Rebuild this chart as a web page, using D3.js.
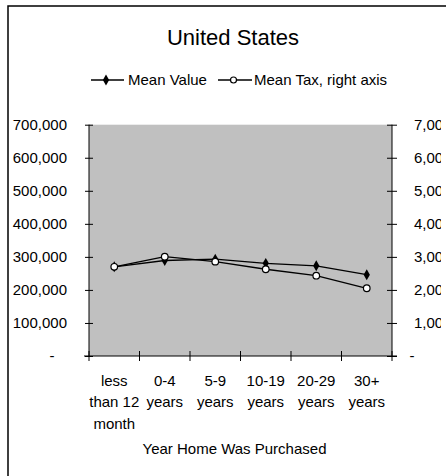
<!DOCTYPE html>
<html>
<head>
<meta charset="utf-8">
<script src="https://cdn.jsdelivr.net/npm/d3@7"></script>
<style>
  html, body { margin: 0; padding: 0; background: #fff; overflow: hidden; }
  svg { display: block; font-family: "Liberation Sans", Arial, sans-serif; }
</style>
</head>
<body>
<svg id="chart" width="446" height="476"></svg>
<script>
const categories = [
  ["less", "than 12", "month"],
  ["0-4", "years"],
  ["5-9", "years"],
  ["10-19", "years"],
  ["20-29", "years"],
  ["30+", "years"]
];
const meanValue = [270000, 289000, 293000, 280500, 273000, 246000];
const meanTax = [2700, 3005, 2855, 2625, 2430, 2050];
const leftTicks = [0, 100000, 200000, 300000, 400000, 500000, 600000, 700000];
const rightTicks = [0, 1000, 2000, 3000, 4000, 5000, 6000, 7000];
const seriesNames = ["Mean Value", "Mean Tax, right axis"];
const titleText = "United States";
const xTitle = "Year Home Was Purchased";

const svg = d3.select("#chart");
const L = 89, R = 392, T = 124.7, B = 356;

// outer frame (left and top edges visible)
svg.append("rect").attr("x", 8).attr("y", 6).attr("width", 600).attr("height", 600)
  .attr("fill", "#fff").attr("stroke", "#000").attr("stroke-width", 1.5);

svg.append("defs").append("clipPath").attr("id", "clipR")
  .append("rect").attr("x", 0).attr("y", 0).attr("width", 441).attr("height", 476);

const x = d3.scaleBand().domain(d3.range(categories.length)).range([L, R]).padding(0);
const yL = d3.scaleLinear().domain([0, 700000]).range([B, T]);
const yR = d3.scaleLinear().domain([0, 7000]).range([B, T]);

// plot background
svg.append("rect").attr("x", L).attr("y", T).attr("width", R - L).attr("height", B - T)
  .attr("fill", "#C0C0C0");

const fmt = d3.format(",");
const fs = 15;

// left axis
const gL = svg.append("g").attr("transform", `translate(${L},0)`)
  .call(d3.axisLeft(yL).tickValues(leftTicks).tickSize(4).tickPadding(18)
    .tickFormat(d => d === 0 ? "" : fmt(d)));
gL.select(".domain").remove();
gL.selectAll(".tick line").attr("x1", 4).attr("x2", -4).attr("stroke", "#000");
gL.selectAll(".tick text").attr("font-size", fs).attr("font-family", "Liberation Sans, Arial, sans-serif").attr("fill", "#000");
svg.append("text").attr("x", 52).attr("y", yL(0)).attr("dy", "0.35em")
  .attr("text-anchor", "middle").attr("font-size", fs).text("-");

// right axis
const clipWrap = svg.append("g").attr("clip-path", "url(#clipR)");
const gR = clipWrap.append("g").attr("transform", `translate(${R},0)`)
  .call(d3.axisRight(yR).tickValues(rightTicks).tickSize(5).tickPadding(17)
    .tickFormat(d => d === 0 ? "" : fmt(d)));
gR.select(".domain").remove();
gR.selectAll(".tick line").attr("x1", -5).attr("x2", 5).attr("stroke", "#000");
gR.selectAll(".tick text").attr("font-size", fs).attr("font-family", "Liberation Sans, Arial, sans-serif").attr("fill", "#000");
svg.append("text").attr("x", 412).attr("y", yR(0)).attr("dy", "0.35em")
  .attr("text-anchor", "middle").attr("font-size", fs).text("-");

// axis lines
svg.append("line").attr("x1", L).attr("x2", L).attr("y1", T).attr("y2", B).attr("stroke", "#000");
svg.append("line").attr("x1", R).attr("x2", R).attr("y1", T).attr("y2", B).attr("stroke", "#000");
svg.append("line").attr("x1", L - 5).attr("x2", R + 5).attr("y1", B).attr("y2", B).attr("stroke", "#000");

// bottom ticks at category boundaries
const bounds = d3.range(categories.length + 1).map(i => i < categories.length ? x(i) : x(i - 1) + x.bandwidth());
svg.selectAll(".xt").data(bounds).enter().append("line")
  .attr("x1", d => d).attr("x2", d => d).attr("y1", B - 5).attr("y2", B + 5).attr("stroke", "#000");

// category labels
const cx = i => x(i) + x.bandwidth() / 2;
categories.forEach((lines, i) => {
  lines.forEach((t, j) => {
    svg.append("text").attr("x", cx(i)).attr("y", 386 + j * 21.3)
      .attr("text-anchor", "middle").attr("font-size", fs).text(t);
  });
});

// axis title
svg.append("text").attr("x", 234.5).attr("y", 453.5).attr("text-anchor", "middle")
  .attr("font-size", fs).text(xTitle);

// title
svg.append("text").attr("x", 233).attr("y", 45).attr("text-anchor", "middle")
  .attr("font-size", 22).text(titleText);

// series
const lineV = d3.line().x((d, i) => cx(i)).y(d => yL(d));
const lineT = d3.line().x((d, i) => cx(i)).y(d => yR(d));
svg.append("path").attr("d", lineV(meanValue)).attr("fill", "none").attr("stroke", "#000").attr("stroke-width", 1.3);
const diamond = d3.symbol().type(d3.symbolDiamond).size(34);
svg.selectAll(".dv").data(meanValue).enter().append("path")
  .attr("d", diamond).attr("transform", (d, i) => `translate(${cx(i)},${yL(d)})`)
  .attr("fill", "#000");

svg.append("path").attr("d", lineT(meanTax)).attr("fill", "none").attr("stroke", "#000").attr("stroke-width", 1.3);
svg.selectAll(".ct").data(meanTax).enter().append("circle")
  .attr("cx", (d, i) => cx(i)).attr("cy", d => yR(d)).attr("r", 3.3)
  .attr("fill", "#fff").attr("stroke", "#000").attr("stroke-width", 1.2);

// legend
const ly = 80;
svg.append("line").attr("x1", 91).attr("x2", 124).attr("y1", ly).attr("y2", ly).attr("stroke", "#000").attr("stroke-width", 1.3);
svg.append("path").attr("d", diamond).attr("transform", `translate(106,${ly})`).attr("fill", "#000");
svg.append("text").attr("x", 128).attr("y", ly).attr("dy", "0.35em").attr("font-size", fs).text(seriesNames[0]);
svg.append("line").attr("x1", 218).attr("x2", 252).attr("y1", ly).attr("y2", ly).attr("stroke", "#000").attr("stroke-width", 1.3);
svg.append("circle").attr("cx", 233.5).attr("cy", ly).attr("r", 3).attr("fill", "#fff").attr("stroke", "#000").attr("stroke-width", 1.2);
svg.append("text").attr("x", 254).attr("y", ly).attr("dy", "0.35em").attr("font-size", fs).text(seriesNames[1]);
</script>
</body>
</html>
